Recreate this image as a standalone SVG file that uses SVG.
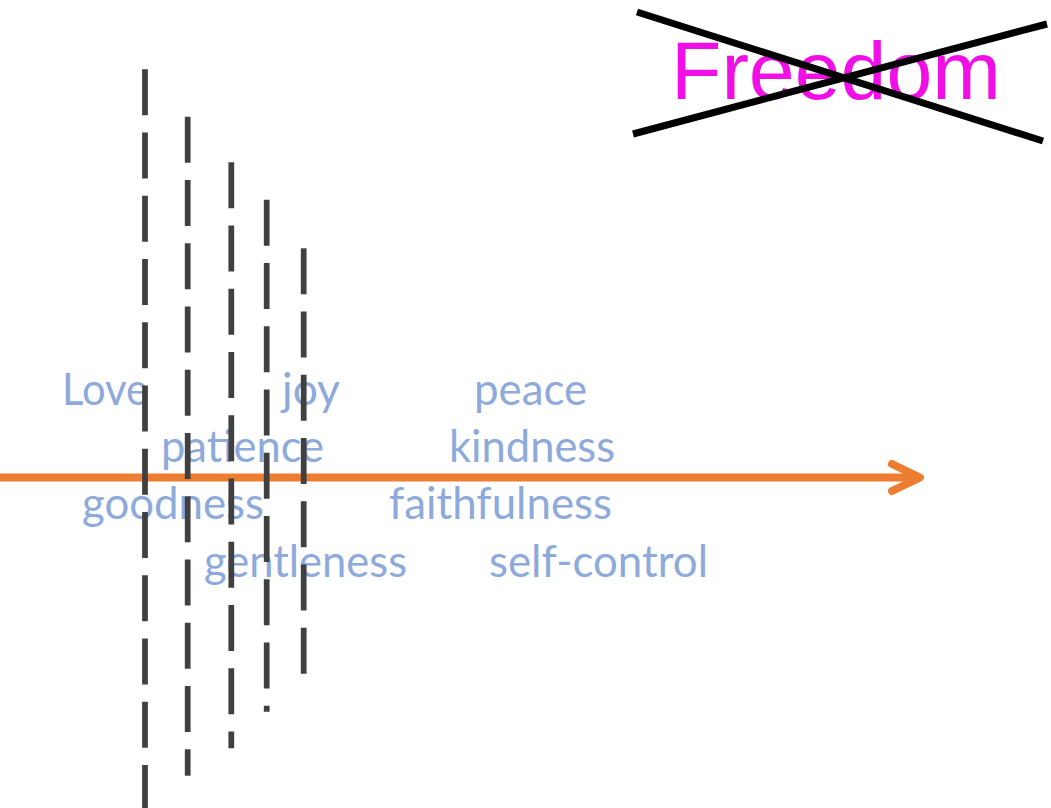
<svg xmlns="http://www.w3.org/2000/svg" width="1051" height="808" viewBox="0 0 1051 808">
<style>
.dash{stroke:#404040;stroke-width:5.75;stroke-dasharray:46 17.25;fill:none}
.w{font-family:Lato,"Liberation Sans",sans-serif;font-size:44px;fill:#8EAADB}
.x{stroke:#000;stroke-width:7;fill:none}
</style>
<rect width="1051" height="808" fill="#fff"/>
<g id="freedom">
<text x="671" y="99" font-family="'Liberation Sans',Arial,sans-serif" font-size="82.4" fill="#F010E6" textLength="330" lengthAdjust="spacingAndGlyphs">Freedom</text>
<line class="x" x1="637" y1="12" x2="1043" y2="141"/>
<line class="x" x1="633" y1="134" x2="1047" y2="24"/>
</g>
<g id="arrow">
<line x1="0" y1="477.5" x2="920" y2="477.5" stroke="#ED7D31" stroke-width="8"/>
<polyline points="892,464 920,477.5 892,491" fill="none" stroke="#ED7D31" stroke-width="8" stroke-linecap="round" stroke-linejoin="round"/>
</g>
<g id="words">
<text class="w" x="62" y="405" textLength="86" lengthAdjust="spacingAndGlyphs">Love</text>
<text class="w" x="282" y="405" textLength="58" lengthAdjust="spacingAndGlyphs">joy</text>
<text class="w" x="474" y="405" textLength="113" lengthAdjust="spacingAndGlyphs">peace</text>
<text class="w" x="161" y="462" textLength="163" lengthAdjust="spacingAndGlyphs">patience</text>
<text class="w" x="449" y="462" textLength="166" lengthAdjust="spacingAndGlyphs">kindness</text>
<text class="w" x="82" y="518.5" textLength="182" lengthAdjust="spacingAndGlyphs">goodness</text>
<text class="w" x="389" y="518.5" textLength="223" lengthAdjust="spacingAndGlyphs">faithfulness</text>
<text class="w" x="204" y="577" textLength="203" lengthAdjust="spacingAndGlyphs">gentleness</text>
<text class="w" x="489" y="577" textLength="219" lengthAdjust="spacingAndGlyphs">self-control</text>
</g>
<g id="dashes">
<line class="dash" x1="145" y1="69.3" x2="145" y2="808"/>
<line class="dash" x1="187.7" y1="116.7" x2="187.7" y2="775.7"/>
<line class="dash" x1="231.3" y1="162.3" x2="231.3" y2="748.3"/>
<line class="dash" x1="266.7" y1="199.7" x2="266.7" y2="711.7"/>
<line class="dash" x1="303.7" y1="248.3" x2="303.7" y2="674.3"/>
</g>
</svg>
